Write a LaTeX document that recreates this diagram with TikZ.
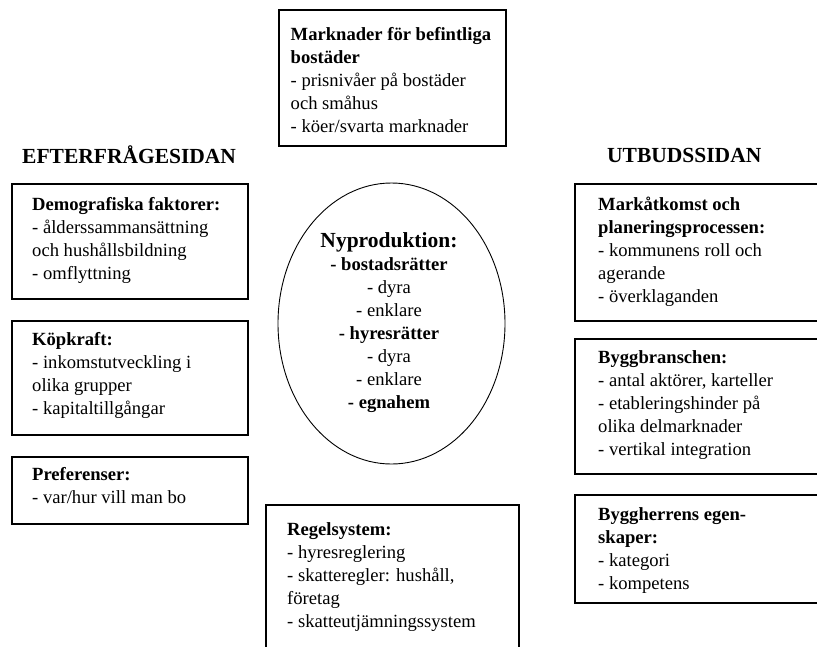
\documentclass[tikz,border=0pt]{standalone}
\usepackage{fontspec}
\setmainfont{Liberation Serif}
\usetikzlibrary{shapes.geometric}
\newcommand{\rader}[1]{\begin{tabular}[t]{@{}l@{}}#1\end{tabular}}
\newcommand{\raderc}[1]{\begin{tabular}[t]{@{}c@{}}#1\end{tabular}}

\begin{document}
\begin{tikzpicture}[x=1pt,y=-1pt,
		ruta/.style={draw,line width=1.5pt,inner sep=0pt,anchor=north west},
		rutatext/.style={anchor=base west,inner sep=0pt,font=\fontsize{18.6}{23}\selectfont},
		sida/.style={anchor=base west,inner sep=0pt,font=\fontsize{21.5}{26}\selectfont\bfseries}]
			\useasboundingbox (0,0) rectangle (817,646);
			\clip (0,0) rectangle (817,646);
			% rubriker
			\node[sida] (efter) at (22,163) {EFTERFRÅGESIDAN};
			\node[sida] (utbud) at (607,162) {UTBUDSSIDAN};
			% nyproduktion i mitten
			\node[draw,ellipse,line width=0.9pt,minimum width=227,minimum height=281] (nyprod) at (391.5,323.5) {};
			\node[anchor=base,inner sep=0pt,font=\fontsize{18.6}{23}\selectfont] (nyprod-t) at (389,247)
				{\raderc{{\fontsize{21.5}{23}\selectfont\bfseries Nyproduktion:}\\ \textbf{- bostadsrätter}\\ - dyra\\ - enklare\\
				 \textbf{- hyresrätter}\\ - dyra\\ - enklare\\ \textbf{- egnahem}}};
			% befintliga bostader
			\node[ruta,minimum width=227,minimum height=136] (marknad) at (278,9) {};
			\node[rutatext] (marknad-t) at ([shift={(12.5,31)}]marknad.north west)
				{\rader{\textbf{Marknader för befintliga}\\ \textbf{bostäder}\\ - prisnivåer på bostäder\\ och småhus\\ - köer/svarta marknader}};
			% efterfragesidan
			\node[ruta,minimum width=236,minimum height=115] (demo) at (11,183) {};
			\node[rutatext] (demo-t) at ([shift={(21,27)}]demo.north west)
				{\rader{\textbf{Demografiska faktorer:}\\ - ålderssammansättning\\ och hushållsbildning\\ - omflyttning}};
			\node[ruta,minimum width=236,minimum height=114] (kop) at (11,320) {};
			\node[rutatext] (kop-t) at ([shift={(21,25)}]kop.north west)
				{\rader{\textbf{Köpkraft:}\\ - inkomstutveckling i\\ olika grupper\\ - kapitaltillgångar}};
			\node[ruta,minimum width=236,minimum height=67] (pref) at (11,456) {};
			\node[rutatext] (pref-t) at ([shift={(21,24)}]pref.north west)
				{\rader{\textbf{Preferenser:}\\ - var/hur vill man bo}};
			% regelsystem
			\node[ruta,minimum width=253,minimum height=160] (regel) at (265,504) {};
			\node[rutatext] (regel-t) at ([shift={(22,31)}]regel.north west)
				{\rader{\textbf{Regelsystem:}\\ - hyresreglering\\ - skatteregler: hushåll,\\ företag\\ - skatteutjämningssystem}};
			% utbudssidan
			\node[ruta,minimum width=260,minimum height=137] (mark) at (574,183) {};
			\node[rutatext] (mark-t) at ([shift={(24,27)}]mark.north west)
				{\rader{\textbf{Markåtkomst och}\\ \textbf{planeringsprocessen:}\\ - kommunens roll och\\ agerande\\ - överklaganden}};
			\node[ruta,minimum width=260,minimum height=135] (bygg) at (574,338) {};
			\node[rutatext] (bygg-t) at ([shift={(24,25)}]bygg.north west)
				{\rader{\textbf{Byggbranschen:}\\ - antal aktörer, karteller\\ - etableringshinder på\\ olika delmarknader\\ - vertikal integration}};
			\node[ruta,minimum width=260,minimum height=108] (herre) at (574,494) {};
			\node[rutatext] (herre-t) at ([shift={(24,26)}]herre.north west)
				{\rader{\textbf{Byggherrens egen-}\\ \textbf{skaper:}\\ - kategori\\ - kompetens}};
		\end{tikzpicture}
\end{document}
